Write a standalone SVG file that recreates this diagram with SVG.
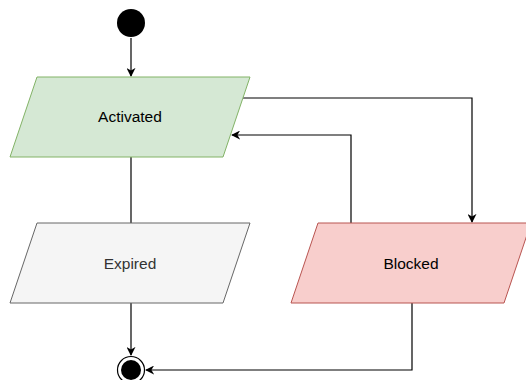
<svg xmlns="http://www.w3.org/2000/svg" width="526" height="380" viewBox="0 0 526 380">
<style>
.lbl{font-family:"Liberation Sans",Arial,sans-serif;font-size:15.5px;text-anchor:middle;dominant-baseline:central}
.edge{fill:none;stroke:#000;stroke-width:1.2}
</style>
<defs>
<marker id="arr" viewBox="0 0 10 10" refX="9" refY="5" markerWidth="9" markerHeight="9" markerUnits="userSpaceOnUse" orient="auto">
<path d="M0,0 L10,5 L0,10 L3,5 Z" fill="#000"/>
</marker>
</defs>
<rect width="526" height="380" fill="#fff"/>
<g id="connectors">
<path class="edge" d="M131,38 L131,76" marker-end="url(#arr)"/>
<path class="edge" d="M243,98 L472,98 L472,222" marker-end="url(#arr)"/>
<path class="edge" d="M351,223 L351,135 L232,135" marker-end="url(#arr)"/>
<path class="edge" d="M131,157 L131,223"/>
<path class="edge" d="M131,303 L131,355" marker-end="url(#arr)"/>
<path class="edge" d="M412,303 L412,370 L146,370" marker-end="url(#arr)"/>
</g>
<g id="start">
<circle cx="131" cy="23" r="14" fill="#000"/>
</g>
<g id="activated">
<polygon points="37,77 250,77 223,157 10,157" fill="#d5e8d4" stroke="#82b366"/>
<text class="lbl" x="130" y="116" fill="#000">Activated</text>
</g>
<g id="expired">
<polygon points="37,223 250,223 223,303 10,303" fill="#f5f5f5" stroke="#666"/>
<text class="lbl" x="130" y="263" fill="#333">Expired</text>
</g>
<g id="blocked">
<polygon points="318,223 531,223 504,303 291,303" fill="#f8cecc" stroke="#b85450"/>
<text class="lbl" x="411" y="263" fill="#000">Blocked</text>
</g>
<g id="end">
<circle cx="131" cy="370" r="13.5" fill="#fff" stroke="#000" stroke-width="1.2"/>
<circle cx="131" cy="370" r="10" fill="#000"/>
</g>
</svg>
